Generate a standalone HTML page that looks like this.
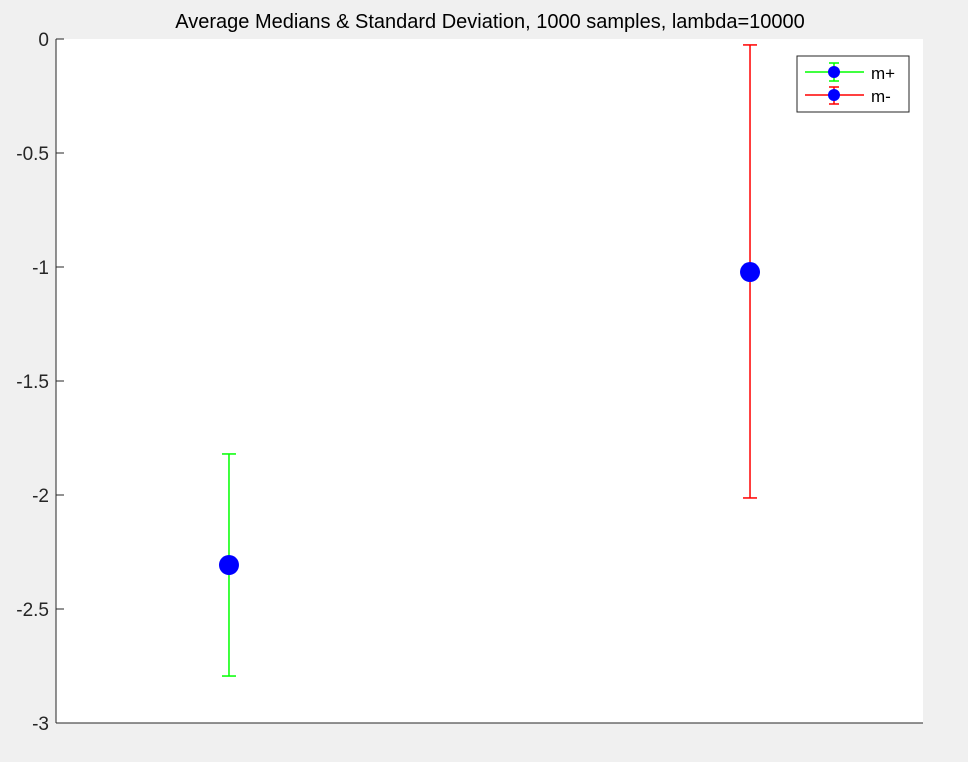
<!DOCTYPE html>
<html><head><meta charset="utf-8"><style>
body{margin:0;background:#f0f0f0;}
svg{display:block;font-family:"Liberation Sans",sans-serif;}
</style></head><body>
<svg id="chart" width="968" height="762">
<rect x="0" y="0" width="968" height="762" fill="#f0f0f0"/>
<rect x="56" y="39" width="867" height="684" fill="#fff"/>
<text x="490" y="28" font-size="20" text-anchor="middle" fill="#000">Average Medians &amp; Standard Deviation, 1000 samples, lambda=10000</text>
<g id="axes"></g>
<g id="marks"></g>
<g>
<rect x="797" y="56" width="112" height="56" fill="#fff" stroke="#262626" stroke-width="1"/>
<g>
<line x1="805" y1="72" x2="864" y2="72" stroke="#00ff00" stroke-width="1.5"/>
<line x1="829" y1="63" x2="839" y2="63" stroke="#00ff00" stroke-width="1.5"/>
<line x1="829" y1="81" x2="839" y2="81" stroke="#00ff00" stroke-width="1.5"/>
<line x1="834" y1="63" x2="834" y2="81" stroke="#00ff00" stroke-width="1.5"/>
<circle cx="834" cy="72" r="6" fill="#0000ff"/>
<text x="871" y="79" font-size="17">m+</text>
</g>
<g>
<line x1="805" y1="95" x2="864" y2="95" stroke="#ff0000" stroke-width="1.5"/>
<line x1="829" y1="87" x2="839" y2="87" stroke="#ff0000" stroke-width="1.5"/>
<line x1="829" y1="104" x2="839" y2="104" stroke="#ff0000" stroke-width="1.5"/>
<line x1="834" y1="87" x2="834" y2="104" stroke="#ff0000" stroke-width="1.5"/>
<circle cx="834" cy="95" r="6" fill="#0000ff"/>
<text x="871" y="102" font-size="17">m-</text>
</g>
</g>
</svg>
<script>
const seriesNames = ["m+", "m-"];
const xValues = [1, 2];
const medians = [-2.307, -1.022];
const errLow = [0.487, 0.991];
const errHigh = [0.487, 0.996];
const colors = ["#00ff00", "#ff0000"];
const yTicks = [0, -0.5, -1, -1.5, -2, -2.5, -3];
const yTickLabels = ["0", "-0.5", "-1", "-1.5", "-2", "-2.5", "-3"];

const L=56, R=923, T=39, B=723;
const xMin=0.668, xMax=2.332, yMin=-3, yMax=0;
const sx=v=>L+(v-xMin)/(xMax-xMin)*(R-L);
const sy=v=>B-(v-yMin)/(yMax-yMin)*(B-T);
const NS="http://www.w3.org/2000/svg";
function mk(tag, attrs, parent){const e=document.createElementNS(NS,tag);for(const k in attrs)e.setAttribute(k,attrs[k]);parent.appendChild(e);return e;}
const axes=document.getElementById('axes'), marks=document.getElementById('marks');
let e=mk('line',{x1:L,y1:T,x2:L,y2:B,stroke:'#262626','stroke-width':1},axes);


e=mk('line',{x1:L,y1:B,x2:R,y2:B,stroke:'#262626','stroke-width':1},axes);


yTicks.forEach((t,i)=>{
  const y=sy(t);
  let tk=mk('line',{x1:L,y1:y,x2:L+8,y2:y,stroke:'#262626','stroke-width':1},axes);
  
  
  let tx=mk('text',{x:L-7,y:y+7,'font-size':19,'text-anchor':'end',fill:'#262626'},axes);
  tx.textContent=yTickLabels[i];
  
  
});
xValues.forEach((xv,i)=>{
  const g=mk('g',{},marks);
  
  
  const x=sx(xv), yt=sy(medians[i]+errHigh[i]), yb=sy(medians[i]-errLow[i]), ym=sy(medians[i]);
  mk('line',{x1:x,y1:yt,x2:x,y2:yb,stroke:colors[i],'stroke-width':1.5},g);
  mk('line',{x1:x-7,y1:yt,x2:x+7,y2:yt,stroke:colors[i],'stroke-width':1.5},g);
  mk('line',{x1:x-7,y1:yb,x2:x+7,y2:yb,stroke:colors[i],'stroke-width':1.5},g);
  const c=mk('circle',{cx:x,cy:ym,r:10,fill:'#0000ff'},g);
  
  
});
</script>
</body></html>
